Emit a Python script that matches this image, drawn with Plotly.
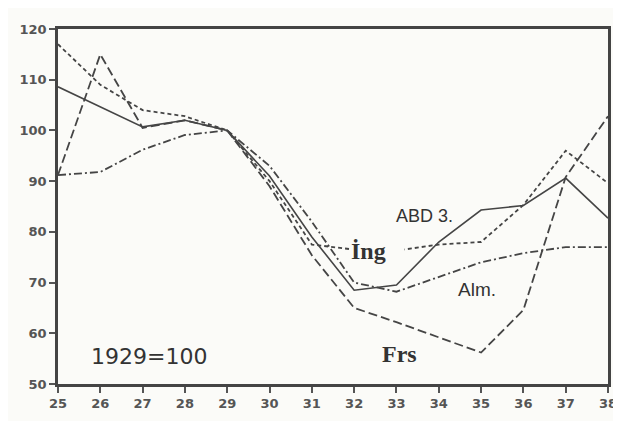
import plotly.graph_objects as go

years = [25, 26, 27, 28, 29, 30, 31, 32, 33, 34, 35, 36, 37, 38]
abd = [108.6, 104.7, 100.7, 102.0, 100.0, 91.0, 79.0, 68.5, 69.5, 78.0, 84.3, 85.2, 90.6, 82.7]
ing = [117.0, 109.0, 104.0, 102.8, 100.0, 90.0, 77.5, 76.5, 76.3, 77.5, 78.0, 85.3, 96.0, 89.6]
alm = [91.2, 91.8, 96.2, 99.1, 100.0, 93.0, 82.0, 70.0, 68.2, 71.1, 74.0, 75.8, 77.0, 77.0]
frs = [91.2, 115.0, 100.5, 102.0, 100.0, 89.0, 75.4, 65.0, 62.2, 59.2, 56.2, 64.6, 90.8, 102.8]

x_ticks = list(range(25, 39))
y_ticks = [50, 60, 70, 80, 90, 100, 110, 120]

ink = "#454545"
bg = "#fbfbf8"

fig = go.Figure()
fig.add_trace(go.Scatter(x=years, y=alm, mode="lines", name="Alm.",
                         line=dict(color=ink, width=1.8, dash="8px,3px,2px,3px")))
fig.add_trace(go.Scatter(x=years, y=frs, mode="lines", name="Frs",
                         line=dict(color=ink, width=1.8, dash="9px,4px")))
fig.add_trace(go.Scatter(x=years, y=ing, mode="lines", name="İng",
                         line=dict(color=ink, width=1.8, dash="4px,3px")))
fig.add_trace(go.Scatter(x=years, y=abd, mode="lines", name="ABD",
                         line=dict(color=ink, width=1.6)))

ann_font_sans = dict(family="Liberation Sans, Arial", size=18, color="#333")
ann_font_serif = dict(family="Liberation Serif, Times New Roman", size=24, color="#333")

fig.add_annotation(x=33.66, y=83.1, text="ABD 3.", showarrow=False, font=ann_font_sans)
fig.add_annotation(x=31.9, y=76.2, text="<b>İng</b>\u00a0\u00a0\u00a0", xanchor="left",
                   showarrow=False, font=ann_font_serif, bgcolor=bg, borderpad=0)
fig.add_annotation(x=34.9, y=68.7, text="Alm.", showarrow=False,
                   font=dict(family="Liberation Sans, Arial", size=19, color="#333"))
fig.add_annotation(x=33.07, y=55.9, text="<b>Frs</b>", showarrow=False, font=ann_font_serif)
fig.add_annotation(x=27.15, y=55.5, text="1929=100", showarrow=False,
                   font=dict(family="DejaVu Sans, Verdana", size=22, color="#333"))

axis_common = dict(showline=True, linecolor="#444", linewidth=2.5, mirror=True,
                   showgrid=False, zeroline=False, ticks="outside", ticklen=6,
                   tickcolor="#555", tickwidth=1.5,
                   tickfont=dict(family="DejaVu Sans", size=13, color="#555", weight="bold"))

fig.update_xaxes(range=[25, 38], tickvals=x_ticks, ticktext=[str(v) for v in x_ticks],
                 **axis_common)
fig.update_yaxes(range=[50, 120], tickvals=y_ticks, ticktext=[str(v) for v in y_ticks],
                 **axis_common)

fig.update_layout(width=621, height=421, showlegend=False,
                  margin=dict(l=46, r=18, t=21, b=45),
                  paper_bgcolor=bg, plot_bgcolor=bg)

fig.write_html("out.html")
